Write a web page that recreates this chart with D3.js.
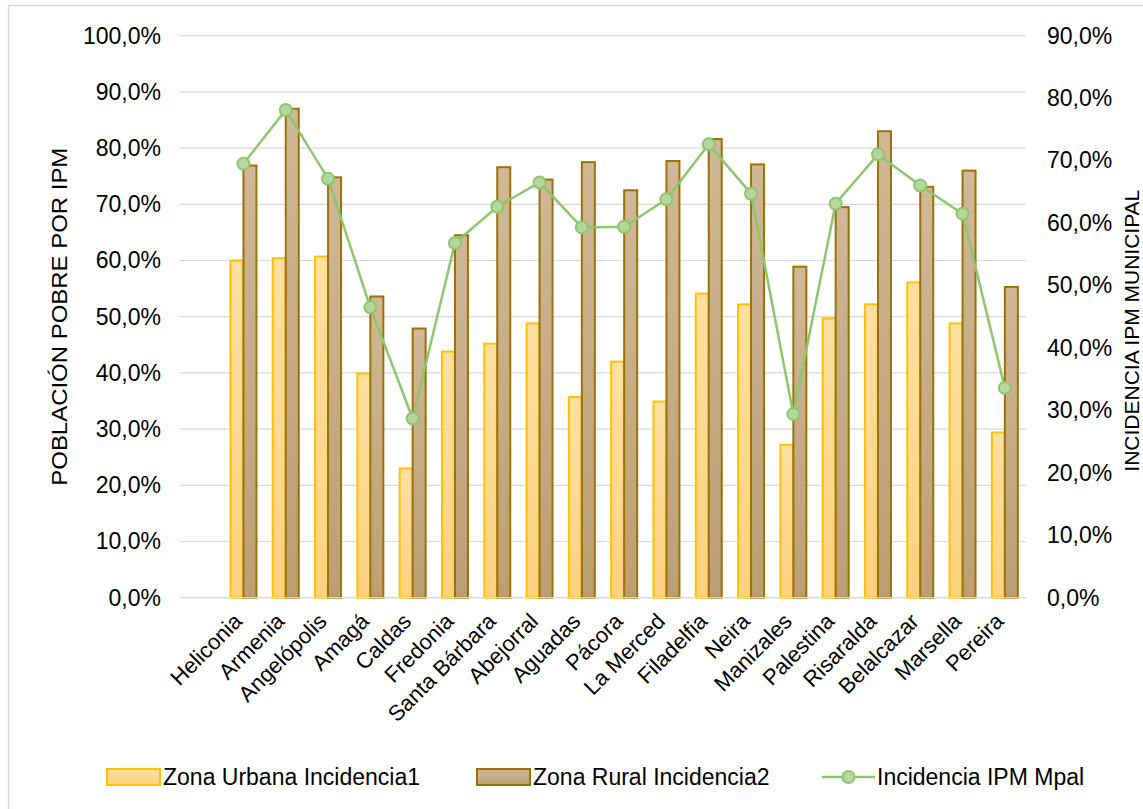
<!DOCTYPE html>
<html>
<head>
<meta charset="utf-8">
<script src="https://cdn.jsdelivr.net/npm/d3@7"></script>
<style>
  html, body { margin: 0; padding: 0; background: #ffffff; }
  svg { display: block; font-family: "Liberation Sans", Arial, sans-serif; }
</style>
</head>
<body>
<svg id="chart" width="1143" height="809"></svg>
<script>
const categories = ["Heliconia", "Armenia", "Angelópolis", "Amagá", "Caldas", "Fredonia", "Santa Bárbara", "Abejorral", "Aguadas", "Pácora", "La Merced", "Filadelfia", "Neira", "Manizales", "Palestina", "Risaralda", "Belalcazar", "Marsella", "Pereira"];
const urbana = [0.600, 0.604, 0.607, 0.399, 0.230, 0.438, 0.452, 0.488, 0.357, 0.420, 0.349, 0.541, 0.522, 0.272, 0.497, 0.522, 0.561, 0.488, 0.294];
const rural  = [0.769, 0.870, 0.748, 0.536, 0.479, 0.645, 0.766, 0.744, 0.775, 0.725, 0.777, 0.816, 0.771, 0.589, 0.695, 0.830, 0.731, 0.760, 0.553];
const ipm    = [0.695, 0.781, 0.671, 0.465, 0.287, 0.568, 0.626, 0.665, 0.593, 0.594, 0.638, 0.726, 0.647, 0.294, 0.631, 0.710, 0.660, 0.615, 0.336];
const leftTicks  = [0, 0.1, 0.2, 0.3, 0.4, 0.5, 0.6, 0.7, 0.8, 0.9, 1.0];
const rightTicks = [0, 0.1, 0.2, 0.3, 0.4, 0.5, 0.6, 0.7, 0.8, 0.9];
const seriesNames = ["Zona Urbana Incidencia1", "Zona Rural Incidencia2", "Incidencia IPM Mpal"];
const leftTitle = "POBLACIÓN POBRE POR IPM";
const rightTitle = "INCIDENCIA IPM MUNICIPAL";

const svg = d3.select("#chart");
const loc = d3.formatLocale({decimal: ",", thousands: ".", grouping: [3], currency: ["$", ""]});
const fmt = loc.format(".1%");

const plot = {left: 180, right: 1026, top: 35.7, bottom: 597.7};

// chart area border
svg.append("rect").attr("x", 8.5).attr("y", 5.5).attr("width", 1150).attr("height", 820)
  .attr("fill", "none").attr("stroke", "#d9d9d9").attr("stroke-width", 1.5);

const defs = svg.append("defs");
const gU = defs.append("linearGradient").attr("id", "gU").attr("x1", 0).attr("y1", 0).attr("x2", 0).attr("y2", 1);
gU.append("stop").attr("offset", "0%").attr("stop-color", "#ffe0a0");
gU.append("stop").attr("offset", "100%").attr("stop-color", "#fdd17e");
const gR = defs.append("linearGradient").attr("id", "gR").attr("x1", 0).attr("y1", 0).attr("x2", 0).attr("y2", 1);
gR.append("stop").attr("offset", "0%").attr("stop-color", "#d0b898");
gR.append("stop").attr("offset", "100%").attr("stop-color", "#bc9e72");

const x = d3.scaleBand().domain(["", ...categories]).range([plot.left, plot.right]).paddingInner(0).paddingOuter(0);
const inner = d3.scaleBand().domain(["u", "r"]).range([-13, 13]);
const yL = d3.scaleLinear().domain([0, 1]).range([plot.bottom, plot.top]);
const yR = d3.scaleLinear().domain([0, 0.9]).range([plot.bottom, plot.top]);
const cx = c => x(c) + x.bandwidth() / 2;

// gridlines
svg.append("g").selectAll("line").data(leftTicks).join("line")
  .attr("x1", plot.left).attr("x2", plot.right)
  .attr("y1", d => yL(d)).attr("y2", d => yL(d))
  .attr("stroke", "#d9d9d9").attr("stroke-width", 1.2);

// left axis
const axL = svg.append("g").attr("transform", `translate(${plot.left},0)`)
  .call(d3.axisLeft(yL).tickValues(leftTicks).tickFormat(fmt).tickSize(0).tickPadding(19));
axL.select(".domain").remove();
axL.selectAll("text").attr("font-size", 23).attr("fill", "#000").attr("font-family", "Liberation Sans, Arial, sans-serif");

// right axis
const axR = svg.append("g").attr("transform", `translate(${plot.right},0)`)
  .call(d3.axisRight(yR).tickValues(rightTicks).tickFormat(fmt).tickSize(0).tickPadding(21));
axR.select(".domain").remove();
axR.selectAll("text").attr("font-size", 23).attr("fill", "#000").attr("font-family", "Liberation Sans, Arial, sans-serif");

// bars
svg.append("g").selectAll("rect").data(categories).join("rect")
  .attr("x", (c) => cx(c) + inner("u"))
  .attr("width", inner.bandwidth())
  .attr("y", (c, i) => yL(urbana[i]))
  .attr("height", (c, i) => yL(0) - yL(urbana[i]))
  .attr("fill", "url(#gU)").attr("stroke", "#ffc000").attr("stroke-width", 2);

svg.append("g").selectAll("rect").data(categories).join("rect")
  .attr("x", (c) => cx(c) + inner("r"))
  .attr("width", inner.bandwidth())
  .attr("y", (c, i) => yL(rural[i]))
  .attr("height", (c, i) => yL(0) - yL(rural[i]))
  .attr("fill", "url(#gR)").attr("stroke", "#9a7206").attr("stroke-width", 2);

// baseline
svg.append("line").attr("x1", plot.left).attr("x2", plot.right)
  .attr("y1", yL(0)).attr("y2", yL(0)).attr("stroke", "#d9d9d9").attr("stroke-width", 1.2);

// line series
const line = d3.line().x((d, i) => cx(categories[i])).y(d => yR(d));
svg.append("path").datum(ipm).attr("d", line)
  .attr("fill", "none").attr("stroke", "#8dc66c").attr("stroke-width", 2.5);
svg.append("g").selectAll("circle").data(ipm).join("circle")
  .attr("cx", (d, i) => cx(categories[i])).attr("cy", d => yR(d)).attr("r", 6)
  .attr("fill", "#b6d8a0").attr("stroke", "#8dc66c").attr("stroke-width", 2);

// category labels
svg.append("g").selectAll("text").data(categories).join("text")
  .attr("transform", c => `translate(${cx(c)},${plot.bottom + 25}) rotate(-45)`)
  .attr("text-anchor", "end")
  .attr("font-size", 22).attr("fill", "#000")
  .text(c => c);

// axis titles
svg.append("text")
  .attr("transform", `translate(67,${(plot.top + plot.bottom) / 2}) rotate(-90)`)
  .attr("text-anchor", "middle").attr("font-size", 22).attr("fill", "#000")
  .attr("textLength", 338).attr("lengthAdjust", "spacingAndGlyphs")
  .text(leftTitle);
svg.append("text")
  .attr("transform", `translate(1139,${(plot.top + plot.bottom) / 2 + 14}) rotate(-90)`)
  .attr("text-anchor", "middle").attr("font-size", 21).attr("fill", "#000")
  .text(rightTitle);

// legend
const lg = svg.append("g");
const legendY = 777;
lg.append("rect").attr("x", 107).attr("y", legendY - 8).attr("width", 53).attr("height", 16)
  .attr("fill", "url(#gU)").attr("stroke", "#ffc000").attr("stroke-width", 2);
lg.append("text").attr("x", 163).attr("y", legendY).attr("dy", "0.35em").attr("font-size", 23).text(seriesNames[0]);
lg.append("rect").attr("x", 477).attr("y", legendY - 8).attr("width", 53).attr("height", 16)
  .attr("fill", "url(#gR)").attr("stroke", "#9a7206").attr("stroke-width", 2);
lg.append("text").attr("x", 533).attr("y", legendY).attr("dy", "0.35em").attr("font-size", 23).text(seriesNames[1]);
lg.append("line").attr("x1", 822).attr("x2", 875).attr("y1", legendY).attr("y2", legendY)
  .attr("stroke", "#8dc66c").attr("stroke-width", 2.5);
lg.append("circle").attr("cx", 848.5).attr("cy", legendY).attr("r", 6)
  .attr("fill", "#b6d8a0").attr("stroke", "#8dc66c").attr("stroke-width", 2);
lg.append("text").attr("x", 877).attr("y", legendY).attr("dy", "0.35em").attr("font-size", 23).text(seriesNames[2]);
</script>
</body>
</html>
